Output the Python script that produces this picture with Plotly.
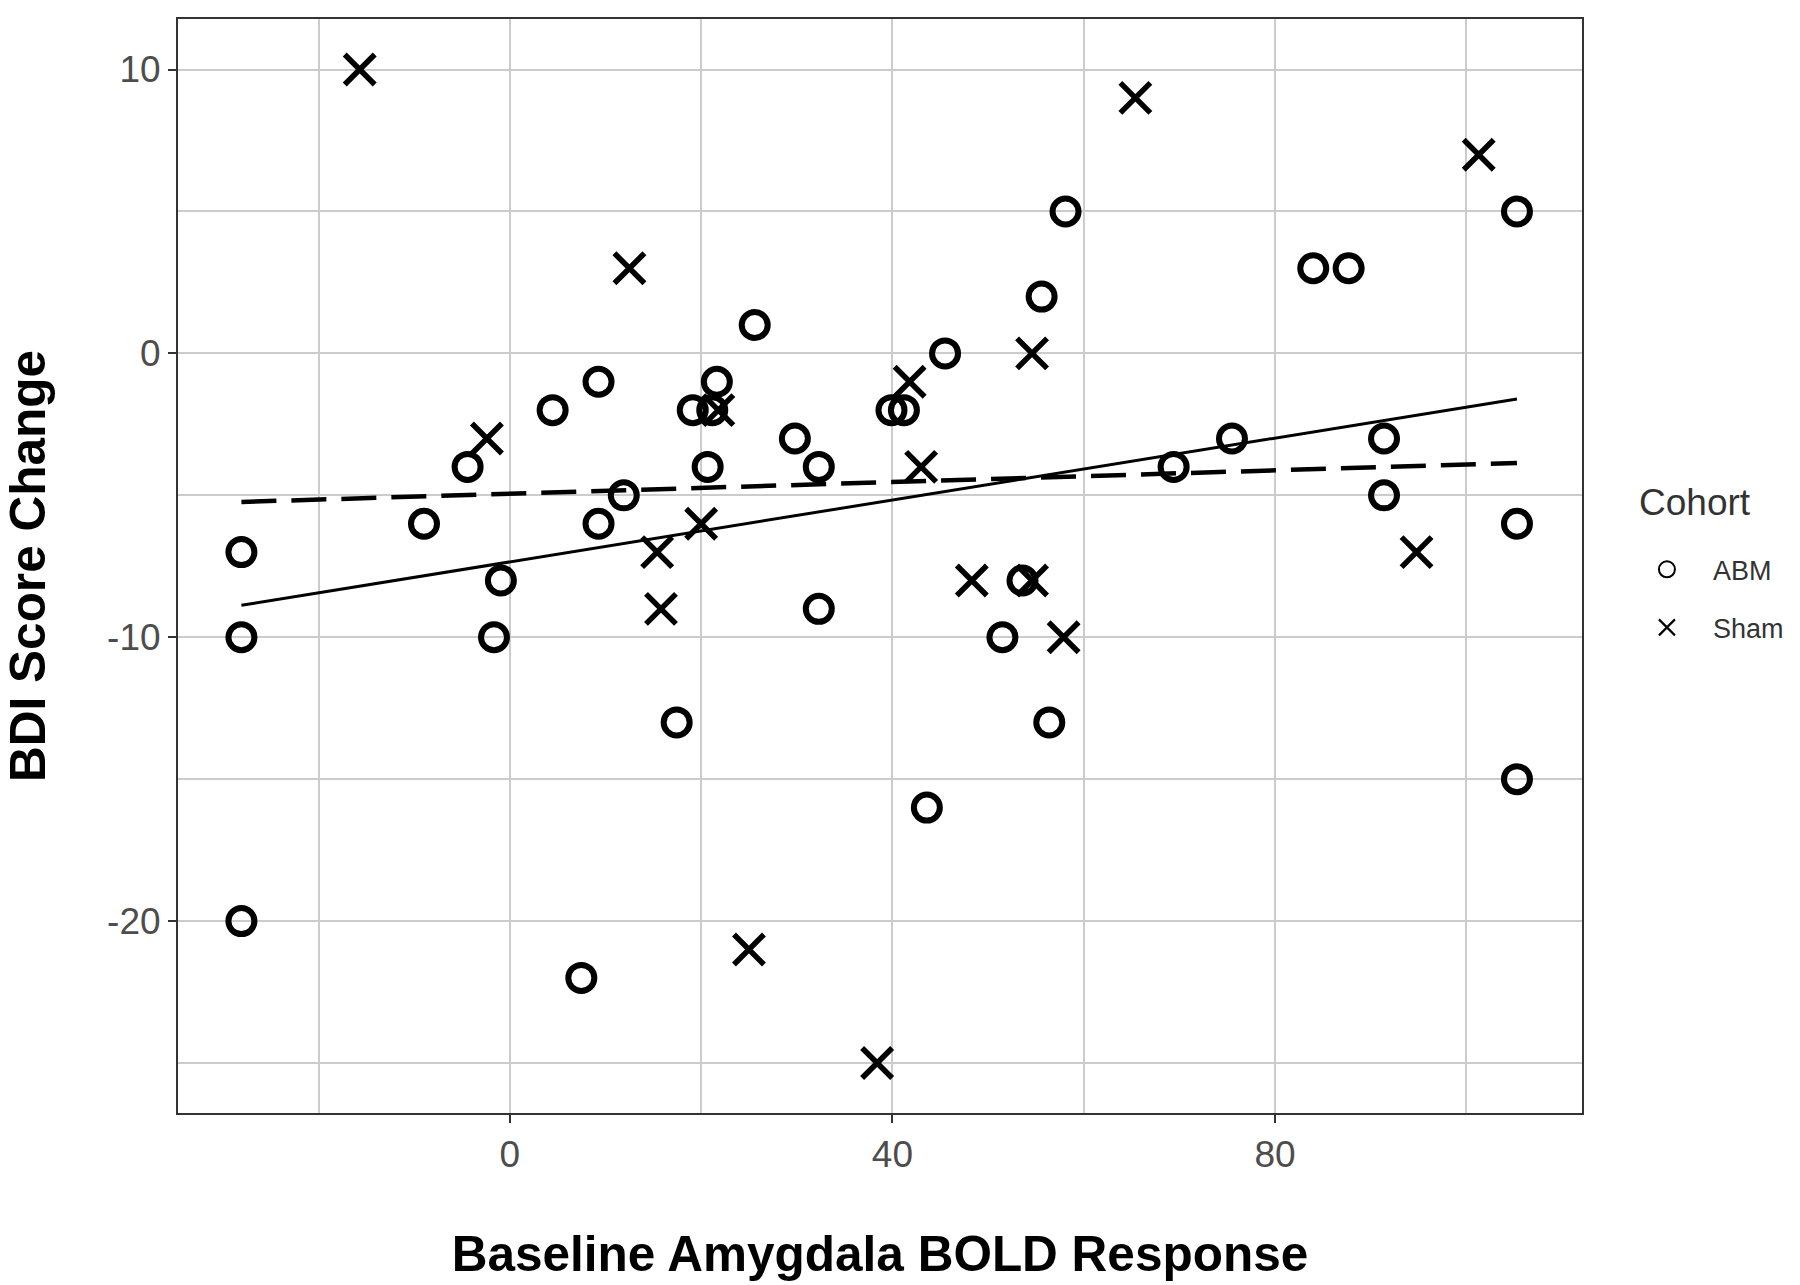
import plotly.graph_objects as go

# ---- data ----
abm_x = [-28.07, -28.07, -28.07, -8.98, -4.42, -1.66, -0.94, 4.47, 7.47, 9.27, 9.27,
         11.91, 17.44, 19.12, 20.68, 21.16, 21.64, 25.6, 29.8, 32.3, 32.3, 39.9, 41.2,
         43.6, 45.5, 51.5, 53.6, 55.6, 56.4, 58.1, 69.4, 75.5, 84.0, 87.7, 91.4, 91.4,
         105.3, 105.3, 105.3]
abm_y = [-7, -10, -20, -6, -4, -10, -8, -2, -22, -1, -6,
         -5, -13, -2, -4, -2, -1, 1, -3, -4, -9, -2, -2,
         -16, 0, -10, -8, 2, -13, 5, -4, -3, 3, 3, -3, -5,
         5, -6, -15]
sham_x = [-15.7, -2.4, 12.5, 15.4, 15.8, 20.0, 21.8, 25.0, 38.4, 41.8, 43.0,
          48.3, 54.6, 54.6, 57.9, 65.4, 94.8, 101.3]
sham_y = [10, -3, 3, -7, -9, -6, -2, -21, -25, -1, -4,
          -8, -8, 0, -10, 9, -7, 7]
cohorts = ["ABM", "Sham"]
fit_names = ["fit_solid", "fit_dashed"]
fit_intercepts = [-7.345, -4.944]
fit_slopes = [0.0545, 0.0103]
x_tickvals = [0, 40, 80]
x_ticktext = ["0", "40", "80"]
y_tickvals = [-20, -10, 0, 10]
y_ticktext = ["-20", "-10", "0", "10"]
x_title = "Baseline Amygdala BOLD Response"
y_title = "BDI Score Change"
legend_title = "Cohort"

FONT = "Liberation Sans, Arial, sans-serif"

fig = go.Figure()

fig.add_trace(go.Scatter(
    x=abm_x, y=abm_y, mode="markers", name=cohorts[0], showlegend=False,
    marker=dict(symbol="circle-open", size=26, color="black",
                line=dict(color="black", width=6))))
fig.add_trace(go.Scatter(
    x=sham_x, y=sham_y, mode="markers", name=cohorts[1], showlegend=False,
    marker=dict(symbol="x-thin-open", size=30, color="black",
                line=dict(color="black", width=5.5))))

xmin = min(abm_x + sham_x)
xmax = max(abm_x + sham_x)
dashes = ["solid", "35px,15px"]
widths = [3, 4.5]
for name, b, m, d, w in zip(fit_names, fit_intercepts, fit_slopes, dashes, widths):
    fig.add_trace(go.Scatter(
        x=[xmin, xmax], y=[b + m * xmin, b + m * xmax], mode="lines",
        name=name, showlegend=False, line=dict(color="black", width=w, dash=d)))

# legend-only entries (thin symbols as in the reference legend)
fig.add_trace(go.Scatter(
    x=[None], y=[None], mode="markers", name=cohorts[0], legendgroup="g1",
    marker=dict(symbol="circle-open", size=17, color="black",
                line=dict(color="black", width=2))))
fig.add_trace(go.Scatter(
    x=[None], y=[None], mode="markers", name=cohorts[1], legendgroup="g2",
    marker=dict(symbol="x-thin-open", size=19, color="black",
                line=dict(color="black", width=2.2))))

axis_common = dict(
    showline=True, mirror=True, linecolor="#333333", linewidth=2,
    ticks="outside", ticklen=8, tickwidth=2, tickcolor="#333333",
    showgrid=True, gridcolor="#CCCCCC", gridwidth=2, zeroline=False,
    automargin=False,
    tickfont=dict(family=FONT, size=37, color="#4D4D4D"),
)

fig.update_layout(
    width=1800, height=1285,
    paper_bgcolor="white", plot_bgcolor="white",
    margin=dict(l=178, r=217, t=19, b=172),
    font=dict(family=FONT, color="#333333"),
    xaxis=dict(
        range=[-34.7, 112.1], tickmode="array", tickvals=x_tickvals, ticktext=x_ticktext,
        minor=dict(dtick=20, tick0=0, showgrid=True, gridcolor="#CCCCCC",
                   gridwidth=2, ticks=""),
        title=dict(text=x_title, font=dict(family=FONT, size=49.5, color="black",
                                           weight="bold"), standoff=62),
        **axis_common),
    yaxis=dict(
        range=[-26.76, 11.78], tickmode="array", tickvals=y_tickvals, ticktext=y_ticktext,
        minor=dict(dtick=5, tick0=0, showgrid=True, gridcolor="#CCCCCC",
                   gridwidth=2, ticks=""),
        title=dict(text=y_title, font=dict(family=FONT, size=49.5, color="black",
                                           weight="bold"), standoff=78),
        **axis_common),
    legend=dict(
        font=dict(family=FONT, size=27, color="#333333"),
        x=1.027, y=0.519, xanchor="left", yanchor="top",
        bgcolor="rgba(0,0,0,0)", itemwidth=82, tracegroupgap=20,
        traceorder="grouped",
    ),
    annotations=[dict(
        text=legend_title, xref="paper", yref="paper", x=1.039, y=0.558,
        xanchor="left", yanchor="middle", showarrow=False,
        font=dict(family=FONT, size=37, color="#333333"))],
)

fig.write_html("out.html", config={"displayModeBar": False},
               post_script="document.body.style.margin='0px';")
